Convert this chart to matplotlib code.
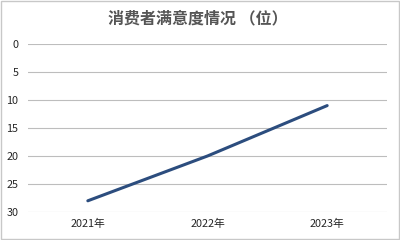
import numpy as np
import matplotlib
matplotlib.use("Agg")
import matplotlib.pyplot as plt
from matplotlib.patches import Rectangle

plt.rcParams['font.family'] = ['Noto Sans CJK SC', 'DejaVu Sans']

# data
years = ["2021年", "2022年", "2023年"]
ranks = [28, 20, 11]
yticks = [0, 5, 10, 15, 20, 25, 30]
title = "消费者满意度情况 （位）"

fig = plt.figure(figsize=(4, 2.4), dpi=100)
ax = fig.add_axes([0.07, 0.1167, 0.8975, 0.7])

x = np.arange(len(years))
ax.plot(x, ranks, color="#2c4d7e", linewidth=2.2, solid_capstyle="round")

ax.set_xlim(-0.5, len(years) - 0.5)
ax.set_ylim(30, 0)
ax.set_yticks(yticks)
ax.set_xticks(x)
ax.set_xticklabels(years)
ax.yaxis.grid(True, color="#bdbdbd", linewidth=0.8)
ax.set_axisbelow(True)
for s in ax.spines.values():
    s.set_visible(False)
ax.tick_params(length=0, labelsize=7.8, labelcolor="#262626")
ax.tick_params(axis="y", pad=7)
ax.tick_params(axis="x", pad=5)
for lab in ax.get_xticklabels() + ax.get_yticklabels():
    lab.set_fontweight("medium")

fig.text(0.495, 0.922, title, ha="center", va="center", fontsize=11.5,
         fontweight="bold", color="#555555")

# thin frame round the picture
fig.patches.append(Rectangle((0.003, 0.005), 0.994, 0.99, transform=fig.transFigure,
                             fill=False, edgecolor="#c8c8c8", linewidth=1))

fig.savefig("out.png", dpi=100)
